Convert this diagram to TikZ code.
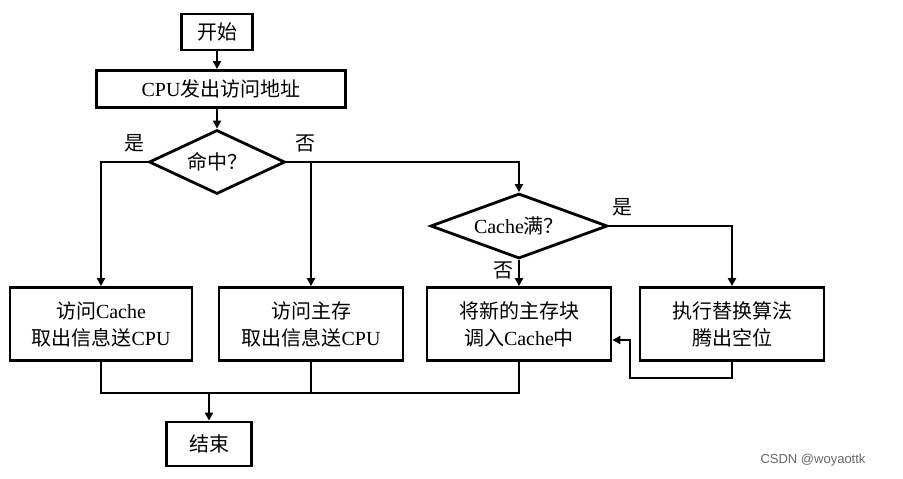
\documentclass[tikz,border=0pt]{standalone}
\usepackage{fontspec}
\setmainfont{Liberation Serif}
\newfontfamily\cjk{Noto Sans CJK SC}
\usetikzlibrary{shapes.geometric,arrows.meta}
\begin{document}
\begin{tikzpicture}[x=1pt,y=-1pt,
  box/.style={draw,line width=2.8pt,align=center,inner sep=0pt,font=\fontsize{20}{27}\selectfont},
  dia/.style={draw,diamond,line width=2.8pt,inner sep=0pt,font=\fontsize{20}{24}\selectfont},
  ln/.style={line width=2pt},
  ar/.style={ln,-{Triangle[length=8pt,width=8pt]}},
  lb/.style={font=\fontsize{20}{24}\selectfont}]
\useasboundingbox (0,0) rectangle (903,479);
\node[box,minimum width=71,minimum height=36] (start) at (217,32) {{\cjk 开始}};
\node[box,minimum width=249,minimum height=37] (cpu) at (221,89) {CPU{\cjk 发出访问地址}};
\node[dia,aspect=2.1,minimum width=136,minimum height=64] (hit) at (217,162) {{\cjk 命中？}};
\node[dia,aspect=2.7,minimum width=177,minimum height=65] (full) at (519,226) {Cache{\cjk 满？}};
\node[box,minimum width=182,minimum height=73] (b1) at (101,324) {{\cjk 访问}Cache\\{\cjk 取出信息送}CPU};
\node[box,minimum width=184,minimum height=73] (b2) at (311,324) {{\cjk 访问主存}\\{\cjk 取出信息送}CPU};
\node[box,minimum width=184,minimum height=73] (b3) at (519,324) {{\cjk 将新的主存块}\\{\cjk 调入}Cache{\cjk 中}};
\node[box,minimum width=184,minimum height=73] (b4) at (732,324) {{\cjk 执行替换算法}\\{\cjk 腾出空位}};
\node[box,minimum width=85,minimum height=44] (end) at (209,444) {{\cjk 结束}};
\node[lb] (y1) at (134,143) {{\cjk 是}};
\node[lb] (n1) at (305,143) {{\cjk 否}};
\node[lb] (y2) at (622,207) {{\cjk 是}};
\node[lb] (n2) at (503,270) {{\cjk 否}};
\node[font=\fontsize{13}{15}\selectfont\sffamily,text=black!60] (wm) at (813,460) {\fontspec{Liberation Sans}CSDN @woyaottk};
\coordinate (j) at (209,393);
\draw[ar] (start.south) -- (start.south |- cpu.north);
\draw[ar] (hit.north |- cpu.south) -- (hit.north);
\draw[ar] (hit.west) -| (b1.north);
\draw[ar] (hit.east) -| (full.north);
\draw[ar] (311,162) -- (b2.north);
\draw[ar] (full.east) -| (b4.north);
\draw[ar] (full.south) -- (b3.north);
\draw[ar] (b4.south) -- (732,378) -- (630,378) -- (630,340) -- (b3.east |- 0,340);
\draw[ln] (b1.south) -- (101,393) -- (519,393) -- (b3.south);
\draw[ln] (b2.south) -- (311,393);
\draw[ar] (j) -- (end);
\end{tikzpicture}
\end{document}
